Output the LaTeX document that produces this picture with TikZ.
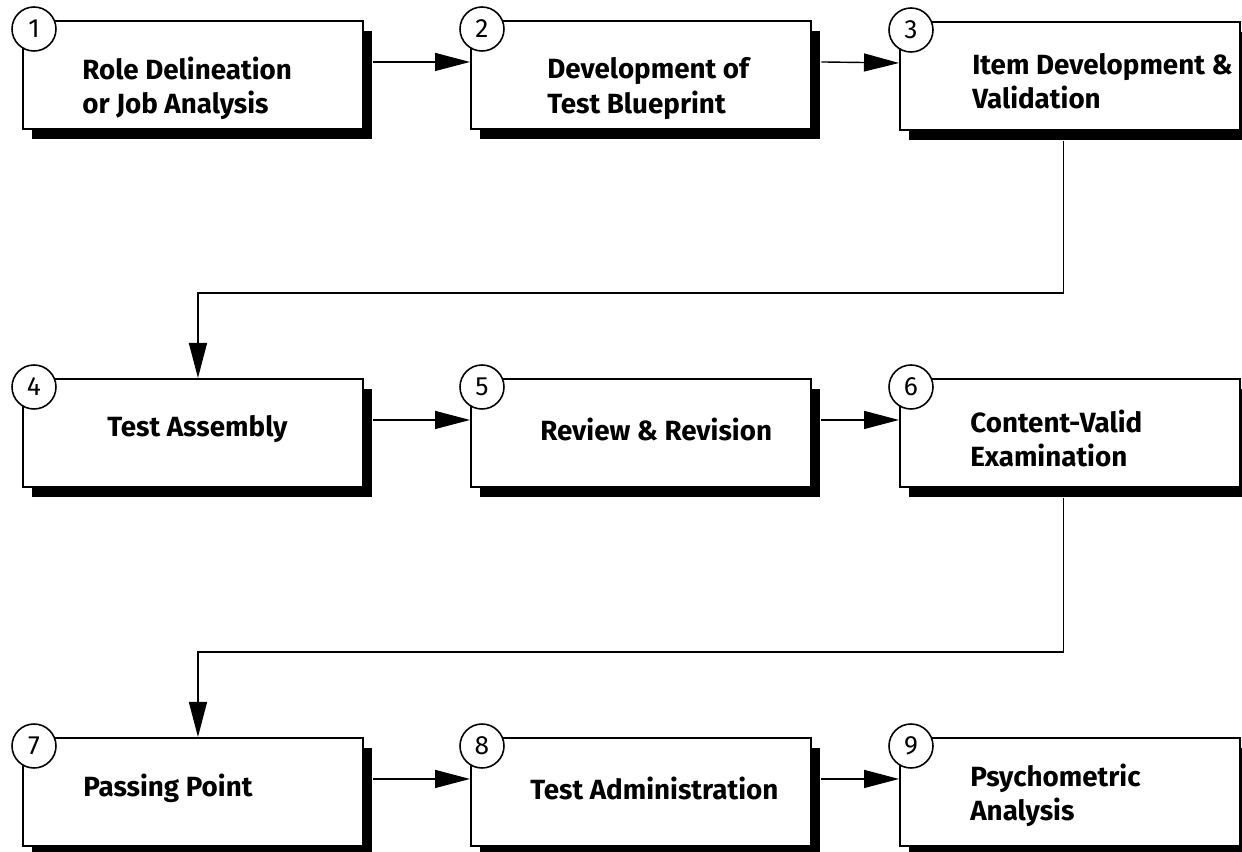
\documentclass[tikz,border=0pt]{standalone}
\usepackage{fontspec}
\setmainfont{Fira Sans}
\usetikzlibrary{arrows.meta,positioning,shadows}

\begin{document}
\begin{tikzpicture}[
  stagebox/.style={draw, line width=1.1pt, fill=white, minimum width=6.8cm, minimum height=2.16cm,
    anchor=north west, drop shadow={shadow xshift=0.19cm, shadow yshift=-0.2cm, fill=black, opacity=1}},
  num/.style={draw, circle, line width=0.9pt, fill=white, minimum size=0.88cm, inner sep=0pt,
    font=\fontsize{15}{15}\selectfont},
  lbl/.style={font=\bfseries\fontsize{15.8}{19.5}\selectfont, align=left, anchor=west, inner sep=0pt},
  arrow/.style={-{Triangle[length=0.7cm,width=0.36cm]}, line width=0.8pt}]
\useasboundingbox (0,0) rectangle (24.84,-17.04);
% row 1
\node[stagebox] (b1) at (0.44,-0.40) {};
\node[stagebox] (b2) at (9.40,-0.40) {};
\node[stagebox] (b3) at (17.98,-0.42) {};
% row 2
\node[stagebox] (b4) at (0.44,-7.56) {};
\node[stagebox] (b5) at (9.40,-7.56) {};
\node[stagebox] (b6) at (17.98,-7.56) {};
% row 3
\node[stagebox] (b7) at (0.44,-14.74) {};
\node[stagebox] (b8) at (9.40,-14.74) {};
\node[stagebox] (b9) at (17.98,-14.74) {};
% labels
\node[lbl] (t1) at ([xshift=1.20cm,yshift=-1.36cm]b1.north west) {Role Delineation\\or Job Analysis};
\node[lbl] (t2) at ([xshift=1.54cm,yshift=-1.37cm]b2.north west) {Development of\\Test Blueprint};
\node[lbl] (t3) at ([xshift=1.46cm,yshift=-1.20cm]b3.north west) {Item Development \&\\Validation};
\node[lbl] (t4) at ([xshift=1.70cm,yshift=-1.02cm]b4.north west) {Test Assembly};
\node[lbl] (t5) at ([xshift=1.40cm,yshift=-1.02cm]b5.north west) {Review \& Revision};
\node[lbl] (t6) at ([xshift=1.42cm,yshift=-1.21cm]b6.north west) {Content-Valid\\Examination};
\node[lbl] (t7) at ([xshift=1.22cm,yshift=-1.02cm]b7.north west) {Passing Point};
\node[lbl] (t8) at ([xshift=1.20cm,yshift=-1.02cm]b8.north west) {Test Administration};
\node[lbl] (t9) at ([xshift=1.42cm,yshift=-1.16cm]b9.north west) {Psychometric\\Analysis};
% numbers
\node[num] (n1) at ([xshift=0.24cm,yshift=-0.18cm]b1.north west) {1};
\node[num] (n2) at ([xshift=0.24cm,yshift=-0.18cm]b2.north west) {2};
\node[num] (n3) at ([xshift=0.24cm,yshift=-0.18cm]b3.north west) {3};
\node[num] (n4) at ([xshift=0.24cm,yshift=-0.18cm]b4.north west) {4};
\node[num] (n5) at ([xshift=0.24cm,yshift=-0.18cm]b5.north west) {5};
\node[num] (n6) at ([xshift=0.24cm,yshift=-0.18cm]b6.north west) {6};
\node[num] (n7) at ([xshift=0.24cm,yshift=-0.18cm]b7.north west) {7};
\node[num] (n8) at ([xshift=0.24cm,yshift=-0.18cm]b8.north west) {8};
\node[num] (n9) at ([xshift=0.24cm,yshift=-0.18cm]b9.north west) {9};
% connectors
\draw[arrow] ([xshift=0.19cm,yshift=0.26cm]b1.east) -- ([yshift=0.26cm]b2.west);
\draw[arrow] ([xshift=0.19cm,yshift=0.26cm]b2.east) -- ([yshift=0.26cm]b3.west);
\draw[arrow] ([xshift=-0.13cm,yshift=-0.2cm]b3.south) |- ([xshift=0.1cm,yshift=1.7cm]b4.north) -- ([xshift=0.1cm]b4.north);
\draw[arrow] ([xshift=0.19cm,yshift=0.26cm]b4.east) -- ([yshift=0.26cm]b5.west);
\draw[arrow] ([xshift=0.19cm,yshift=0.26cm]b5.east) -- ([yshift=0.26cm]b6.west);
\draw[arrow] ([xshift=-0.13cm,yshift=-0.2cm]b6.south) |- ([xshift=0.1cm,yshift=1.7cm]b7.north) -- ([xshift=0.1cm]b7.north);
\draw[arrow] ([xshift=0.19cm,yshift=0.26cm]b7.east) -- ([yshift=0.26cm]b8.west);
\draw[arrow] ([xshift=0.19cm,yshift=0.26cm]b8.east) -- ([yshift=0.26cm]b9.west);
\end{tikzpicture}
\end{document}
